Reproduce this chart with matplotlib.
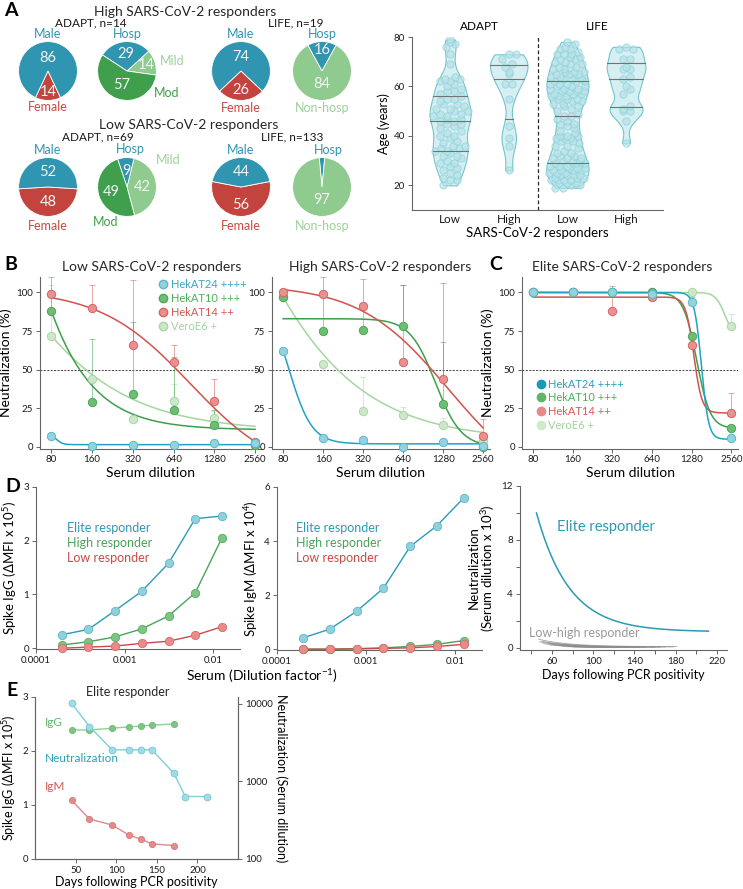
import numpy as np
import matplotlib
matplotlib.use("Agg")
import matplotlib.pyplot as plt
from matplotlib.lines import Line2D
from matplotlib.ticker import NullLocator, FixedLocator

plt.rcParams['font.family'] = ['Lato', 'DejaVu Sans']
plt.rcParams['mathtext.fontset'] = 'custom'
plt.rcParams['mathtext.rm'] = 'Lato'
plt.rcParams['mathtext.it'] = 'Lato:italic'
plt.rcParams['axes.linewidth'] = 0.8
plt.rcParams['axes.edgecolor'] = '0.4'
plt.rcParams['xtick.color'] = '0.4'
plt.rcParams['ytick.color'] = '0.4'
plt.rcParams['xtick.labelcolor'] = '0.1'
plt.rcParams['ytick.labelcolor'] = '0.1'

# ---------------- data ----------------
# A: pies (percent)
sex_high_adapt = [86, 14]     # male, female
sev_high_adapt = [14, 29, 57]  # mild, hosp, mod
sex_high_life = [74, 26]
hosp_high_life = [16, 84]     # hosp, non-hosp
sex_low_adapt = [52, 48]
sev_low_adapt = [42, 9, 49]
sex_low_life = [44, 56]
hosp_low_life = [3, 97]

# A: ages
age_adapt_low = [20, 22, 22, 23, 24, 25, 26, 27, 28, 29, 29, 30, 31, 32, 32, 33, 34, 34, 35, 35,
                 36, 36, 37, 38, 39, 40, 40, 41, 42, 43, 44, 45, 45, 46, 46, 47, 47, 48, 48, 49,
                 49, 50, 50, 51, 51, 52, 53, 53, 54, 55, 55, 56, 57, 58, 58, 59, 60, 61, 62, 62,
                 63, 63, 64, 69, 73, 76, 77, 78, 79]
age_adapt_high = [26, 36, 39, 44, 55, 61, 61, 65, 66, 68, 69, 71, 73, 73]
age_life_low = [19, 19, 20, 20, 21, 21, 21, 22, 22, 22, 22, 23, 23, 23, 24, 24, 24, 24, 25, 25,
                25, 26, 26, 26, 26, 27, 27, 27, 28, 28, 28, 29, 29, 29, 30, 30, 30, 31, 31, 31,
                32, 32, 33, 33, 34, 35, 36, 36, 37, 38, 38, 39, 39, 39, 40, 40, 40, 41, 42, 43,
                44, 45, 45, 46, 47, 48, 48, 49, 50, 51, 52, 52, 53, 53, 54, 54, 55, 55, 55, 56,
                56, 56, 57, 57, 57, 58, 58, 58, 58, 59, 59, 59, 60, 60, 60, 61, 61, 61, 62, 62,
                62, 63, 63, 63, 64, 64, 65, 65, 65, 66, 66, 66, 67, 67, 68, 68, 69, 69, 70, 70,
                71, 71, 72, 72, 73, 73, 73, 74, 75, 75, 76, 77, 78]
age_life_high = [37, 46, 50, 50, 51, 52, 57, 59, 60, 63, 64, 67, 67, 68, 71, 71, 75, 75, 76]
resp_ticklabels = ['Low', 'High', 'Low', 'High']

# B/C: neutralization (%)
dil = [80, 160, 320, 640, 1280, 2560]
strains = ['HekAT24 ++++', 'HekAT10 +++', 'HekAT14 ++', 'VeroE6 +']
low_hekat24 = [7, 0.5, 1, 1.5, 2.5, 2.5]
low_hekat10 = [88, 29, 34, 24, 14, 1]
low_hekat14 = [99, 90, 66, 55, 30, 3]
low_veroe6 = [72, 44, 18, 30, 19, 1]
low_err24 = [0, 0, 0, 0, 0, 0]
low_err10 = [22, 41, 47, 34, 10, 0]
low_err14 = [0, 15, 42, 11, 14, 0]
low_errve = [33, 0, 0, 11, 4, 0]
high_hekat24 = [62, 6, 4.5, 0, 3, 0.5]
high_hekat10 = [97, 75, 76, 78, 28, 0]
high_hekat14 = [100, 99, 91, 55, 44, 7]
high_veroe6 = [97, 54, 23, 21, 14, 4]
high_err24 = [0, 0, 0, 0, 0, 0]
high_err10 = [0, 35, 33, 27, 40, 0]
high_err14 = [0, 0, 0, 50, 62, 11]
high_errve = [0, 0, 22, 5, 5, 0]
elite_hekat24 = [100, 100, 100, 99, 94, 6]
elite_hekat10 = [100, 100, 100, 100, 72, 12]
elite_hekat14 = [100, 100, 88, 97, 66, 22]
elite_veroe6 = [100, 100, 100, 100, 100, 78]
elite_err24 = [0, 0, 0, 0, 3, 0]
elite_err10 = [0, 0, 0, 0, 0, 0]
elite_err14 = [0, 0, 16, 0, 0, 13]
elite_errve = [0, 0, 0, 0, 0, 8]
# fitted 4PL parameters (top, bottom, ec50, hill)
fit_low = [(7.9, 1.5, 88, 20), (731, 11, 20, 1.53), (102, -20, 850, 1.3), (291, 10, 20, 0.91)]
fit_high = [(100, 2, 88, 5), (83, 0, 1120, 4.5), (105, -30, 1400, 1.3), (416, 4, 20, 0.89)]
fit_elite = [(100, 5, 1520, 16), (100, 12, 1400, 8.5), (97, 22, 1330, 14), (100, 70, 2300, 12)]

# D: binding
serum_frac = [1/5120, 1/2560, 1/1280, 1/640, 1/320, 1/160, 1/80]
igg_elite = [0.25, 0.35, 0.70, 1.06, 1.58, 2.41, 2.46]
igg_high = [0.06, 0.12, 0.21, 0.36, 0.60, 1.03, 2.05]
igg_low = [0.0, 0.02, 0.04, 0.09, 0.13, 0.24, 0.40]
igm_elite = [0.42, 0.74, 1.40, 2.25, 3.80, 4.57, 5.60]
igm_high = [0.0, 0.0, 0.02, 0.05, 0.10, 0.18, 0.32]
igm_low = [0.0, 0.0, 0.01, 0.03, 0.05, 0.10, 0.18]
resp_names = ['Elite responder', 'High responder', 'Low responder']
# D right: decay fits (x10^3)
elite_decay = (45, 212, 10.0, 1.2, 32)   # t0, t1, start, plateau, tau
gray_start = [0.65, 0.5, 0.45, 0.38, 0.32, 0.28, 0.22, 0.18, 0.14, 0.1, 0.08]
gray_t0 = [47, 50, 48, 55, 52, 60, 58, 65, 70, 75, 80]
gray_t1 = [181, 178, 170, 165, 160, 150, 145, 140, 130, 120, 110]

# E: elite responder over time
e_days = [45, 67, 95, 116, 130, 144, 171]
e_igg = [2.39, 2.39, 2.42, 2.45, 2.46, 2.48, 2.50]
e_igm = [1.09, 0.74, 0.63, 0.44, 0.37, 0.28, 0.25]
e_neut_days = [45, 67, 95, 116, 130, 144, 171, 185, 212]
e_neut = [10240, 5120, 2560, 2560, 2560, 2560, 1280, 640, 640]

# ---------------- colours ----------------
teal, green, red, lgreen = '#2f95b0', '#3f9f4d', '#c3443e', '#8fca8f'
line_c = ['#1fa3c3', '#3d9f4c', '#d4524c', '#a5d6a0']
face_c = ['#93d3df', '#6dbd73', '#eb8f8f', '#cde8c9']
edge_c = ['#5cb7c9', '#4fa559', '#d36565', '#a9d6a3']
leg_txt = ['#38a6c0', '#4daf5a', '#d65a55', '#9fd29b']

W, H = 743, 889
fig = plt.figure(figsize=(W / 100, H / 100), dpi=100)


def ax_px(x0, y0, x1, y1):
    return fig.add_axes([x0 / W, 1 - y1 / H, (x1 - x0) / W, (y1 - y0) / H])


def txt(x, y, s, **kw):
    ha = kw.pop('ha', 'center')
    va = kw.pop('va', 'center')
    fig.text(x / W, 1 - y / H, s, ha=ha, va=va, **kw)


def style(ax):
    for s in ['top', 'right']:
        ax.spines[s].set_visible(False)
    ax.tick_params(length=3, width=0.7, labelsize=7, pad=2)


# ---------------- A: pies ----------------
def pie(cx, cy, vals, cols, start, dists, r=30):
    ax = ax_px(cx - r, cy - r, cx + r, cy + r)
    wedges, _ = ax.pie(vals, colors=cols, startangle=start, counterclock=True,
                       wedgeprops=dict(edgecolor='white', linewidth=0.6))
    ax.set_xlim(-1.02, 1.02)
    ax.set_ylim(-1.02, 1.02)
    for w, v, d in zip(wedges, vals, dists):
        w.set_clip_on(False)
        if d is None:
            continue
        a = np.deg2rad((w.theta1 + w.theta2) / 2)
        ax.text(d * np.cos(a), d * np.sin(a), str(v), ha='center', va='center',
                color='#f4f4f4', fontsize=10.5)


def sex_pie(cx, cy, vals, dm, df):
    m, f = vals
    pie(cx, cy, [f, m], [red, teal], 270 - f * 1.8, [df, dm])


def hosp_pie(cx, cy, vals, dh, dn):
    h, n = vals
    pie(cx, cy, [h, n], [teal, lgreen], 90 - h * 1.8, [dh, dn])


txt(11, 11, 'A', fontsize=14, fontweight='bold')
txt(185, 12, 'High SARS-CoV-2 responders', fontsize=10, color='0.15')
txt(91, 23, 'ADAPT, n=14', fontsize=8.5, color='0.1')
txt(296, 23, 'LIFE, n=19', fontsize=8.5, color='0.1')
txt(189, 125, 'Low SARS-CoV-2 responders', fontsize=10, color='0.15')
txt(98, 137, 'ADAPT, n=69', fontsize=8.5, color='0.1')
txt(292, 137, 'LIFE, n=133', fontsize=8.5, color='0.1')

sex_pie(48, 71, sex_high_adapt, 0.45, 0.72)
pie(127, 71, sev_high_adapt, [lgreen, teal, green], -8, [0.68, 0.57, 0.52])
sex_pie(241, 71, sex_high_life, 0.47, 0.63)
hosp_pie(322, 71, hosp_high_life, 0.7, 0.45)
sex_pie(48, 187, sex_low_adapt, 0.5, 0.5)
pie(127, 187, sev_low_adapt, [lgreen, teal, green], -75, [0.53, 0.55, 0.57])
sex_pie(241, 187, sex_low_life, 0.5, 0.6)
hosp_pie(322, 187, hosp_low_life, None, 0.45)

for yy in (0, 116):
    txt(48, 34 + yy, 'Male', color=teal, fontsize=9)
    txt(48, 107 + yy + 3 * (yy > 0), 'Female', color='#c84a43', fontsize=9)
    txt(241, 34 + yy, 'Male', color=teal, fontsize=9)
    txt(241, 108 + yy + 2 * (yy > 0), 'Female', color='#c84a43', fontsize=9)
    txt(322 + 6 * (yy > 0), 34 + yy, 'Hosp', color=teal, fontsize=9)
txt(127, 34, 'Hosp', color=teal, fontsize=9)
txt(172, 61, 'Mild', color='#9fd09b', fontsize=9)
txt(167, 93, 'Mod', color=green, fontsize=9)
txt(322, 108, 'Non-hosp', color='#9fd09b', fontsize=9)
txt(130, 149, 'Hosp', color=teal, fontsize=9)
txt(168, 160, 'Mild', color='#9fd09b', fontsize=9)
txt(106, 222, 'Mod', color=green, fontsize=9)
txt(322, 226, 'Non-hosp', color='#9fd09b', fontsize=9)

# ---------------- A: violins ----------------
vax = ax_px(412, 37, 663, 210)
style(vax)
groups = [age_adapt_low, age_adapt_high, age_life_low, age_life_high]
vpos = [0, 1, 2, 3]
parts = vax.violinplot(groups, positions=vpos, widths=[0.7, 0.64, 0.72, 0.66],
                       showextrema=False, bw_method=0.28)
for b in parts['bodies']:
    b.set_facecolor('#d6eff2')
    b.set_edgecolor('#74c4ce')
    b.set_linewidth(0.8)
    b.set_alpha(1)


def halfwidth_fn(body, p):
    v = body.get_paths()[0].vertices
    r = v[v[:, 0] >= p - 1e-9]
    o = np.argsort(r[:, 1])
    ys, xs = r[o, 1], r[o, 0]
    return lambda y: max(np.interp(y, ys, xs) - p, 0.0)


for g, p, b in zip(groups, vpos, parts['bodies']):
    hw = halfwidth_fn(b, p)
    vals = np.asarray(g, float)
    xs = np.full(len(vals), float(p))
    bins = np.floor((vals - vals.min()) / 2.8).astype(int)
    for k in np.unique(bins):
        idx = np.where(bins == k)[0]
        n = len(idx)
        if n == 1:
            continue
        w = min(hw(vals[idx].mean()) * 0.85, (n - 1) * 0.06)
        off = np.linspace(-w, w, n)
        off = np.concatenate([off[::2], off[1::2]])
        xs[idx] = p + off
    vax.scatter(xs, vals, s=28, facecolor='#b6e2e8', edgecolor='#86cfd8', linewidth=0.6,
                alpha=0.7, zorder=3)
    for q in np.percentile(vals, [25, 50, 75]):
        h = hw(q)
        vax.plot([p - h, p + h], [q, q], color='0.45', lw=0.8, zorder=4)

vax.axvline(1.5, color='0.15', ls=(0, (3, 2)), lw=0.9)
vax.set_xlim(-0.65, 3.63)
vax.set_ylim(10, 80)
vax.set_yticks([20, 40, 60, 80])
vax.set_xticks(vpos, resp_ticklabels, fontsize=8.5)
vax.tick_params(axis='x', length=0, pad=3)
vax.set_ylabel('Age (years)', fontsize=9, labelpad=3)
vax.set_xlabel('SARS-CoV-2 responders', fontsize=9.5, labelpad=1)
vax.text(0.5, 82, 'ADAPT', ha='center', va='bottom', fontsize=8.5)
vax.text(2.5, 82, 'LIFE', ha='center', va='bottom', fontsize=8.5)


# ---------------- B / C: neutralization ----------------
def hill(x, top, bottom, ec50, h):
    return bottom + (top - bottom) / (1 + (x / ec50) ** h)


def neut_panel(rect, vals, errs, fits, ylabel):
    ax = ax_px(*rect)
    style(ax)
    ax.set_xscale('log', base=2)
    ax.set_xlim(66, 2880)
    ax.set_ylim(-1, 110)
    ax.axhline(50, color='0.25', lw=0.7, ls=(0, (2, 1.5)), zorder=1)
    xx = np.geomspace(80, 2560, 400)
    for i in [3, 1, 2, 0]:
        ax.errorbar(dil, vals[i], yerr=[np.zeros(6), errs[i]], fmt='none', ecolor=line_c[i],
                    alpha=0.5, elinewidth=0.7, capsize=2, capthick=0.7, zorder=2)
        ax.plot(xx, hill(xx, *fits[i]), color=line_c[i], lw=1.1, zorder=3)
    for i in [3, 1, 2, 0]:
        ax.plot(dil, vals[i], 'o', ms=6, mfc=face_c[i], mec=edge_c[i], mew=0.7,
                zorder=4, clip_on=False)
    ax.set_xticks(dil, [str(d) for d in dil])
    ax.xaxis.set_minor_locator(NullLocator())
    ax.set_yticks([0, 25, 50, 75, 100])
    ax.set_xlabel('Serum dilution', fontsize=10, labelpad=2)
    if ylabel:
        ax.set_ylabel('Neutralization (%)', fontsize=10, labelpad=3)
    return ax


bl = neut_panel((40, 277, 262, 448.5), [low_hekat24, low_hekat10, low_hekat14, low_veroe6],
                [low_err24, low_err10, low_err14, low_errve], fit_low, True)
br = neut_panel((272, 277, 490, 448.5), [high_hekat24, high_hekat10, high_hekat14, high_veroe6],
                [high_err24, high_err10, high_err14, high_errve], fit_high, False)
cc = neut_panel((522, 277, 738, 448.5), [elite_hekat24, elite_hekat10, elite_hekat14, elite_veroe6],
                [elite_err24, elite_err10, elite_err14, elite_errve], fit_elite, True)

handles_b = [Line2D([], [], ls='none', marker='o', ms=6, mfc=face_c[i], mec=edge_c[i]) for i in range(4)]
bl.legend(handles_b, strains, loc='upper left', bbox_to_anchor=(0.52, 1.0), frameon=False,
          fontsize=8, labelcolor=leg_txt, handletextpad=0.2, labelspacing=0.25,
          borderpad=0, handlelength=1.0, borderaxespad=0.2)
handles_c = [Line2D([], [], ls='none', marker='o', ms=6, mfc=c, mec=c)
             for c in ['#1b9ab5', '#5cb866', '#e98888', '#cfe9cb']]
cc.legend(handles_c, strains, loc='lower left', bbox_to_anchor=(0.05, 0.09), frameon=False,
          fontsize=8, labelcolor=['#2a9fb8', '#4daf5a', '#d65a55', '#9fd29b'], handletextpad=0.2,
          labelspacing=0.25, borderpad=0, handlelength=1.0, borderaxespad=0.2)

txt(11, 265, 'B', fontsize=14, fontweight='bold')
txt(496, 265, 'C', fontsize=14, fontweight='bold')
txt(152, 267, 'Low SARS-CoV-2 responders', fontsize=10, color='0.15')
txt(380, 267, 'High SARS-CoV-2 responders', fontsize=10, color='0.15')
txt(622, 267, 'Elite SARS-CoV-2 responders', fontsize=10, color='0.15')

# ---------------- D ----------------
d_line = ['#2a9bb3', '#4aa35a', '#c94a48']
d_face = ['#8fd0dc', '#7cc582', '#e88b8b']
d_edge = ['#5fb8c9', '#5aae63', '#d86c6c']


def bind_panel(rect, series, ymax, ylabel, tx):
    ax = ax_px(*rect)
    style(ax)
    ax.set_xscale('log')
    ax.set_xlim(1e-4, 0.02)
    ax.set_ylim(-0.005 * ymax, ymax)
    for i in [2, 1, 0]:
        ax.plot(serum_frac, series[i], '-o', color=d_line[i], lw=1, ms=6, mfc=d_face[i],
                mec=d_edge[i], mew=0.6, clip_on=False, zorder=3 + i)
    ax.set_xticks([1e-4, 1e-3, 1e-2], ['0.0001', '0.001', '0.01'])
    ax.xaxis.set_minor_locator(NullLocator())
    ax.set_ylabel(ylabel, fontsize=9.5, labelpad=3)
    for name, c, y in zip(resp_names, d_line, [528, 543, 558]):
        txt(tx, y, name, ha='left', color=c, fontsize=9)
    return ax


dl = bind_panel((36, 487, 240, 649), [igg_elite, igg_high, igg_low], 3, 'Spike IgG (ΔMFI x 10$^5$)', 67)
dl.set_yticks([0, 1, 2, 3])
dm = bind_panel((277, 487, 482, 650), [igm_elite, igm_high, igm_low], 6, 'Spike IgM (ΔMFI x 10$^4$)', 296)
dm.set_yticks([0, 2, 4, 6])
txt(262, 676, 'Serum (Dilution factor$^{-1}$)', fontsize=10)
txt(13, 487, 'D', fontsize=14, fontweight='bold')

dr = ax_px(520, 486, 727, 650)
style(dr)
dr.set_xlim(29, 230)
dr.set_ylim(-0.15, 12)
for s0, t0, t1 in zip(gray_start, gray_t0, gray_t1):
    tt = np.linspace(t0, t1, 100)
    dr.plot(tt, s0 * 0.15 + s0 * 0.85 * np.exp(-(tt - t0) / 30), color='0.55', lw=0.6, alpha=0.8)
t0, t1, s0, pl, tau = elite_decay
tt = np.linspace(t0, t1, 300)
dr.plot(tt, pl + (s0 - pl) * np.exp(-(tt - t0) / tau), color='#2a9bb0', lw=1.1)
dr.set_xticks([60, 100, 140, 180, 220])
dr.xaxis.set_minor_locator(FixedLocator([40, 80, 120, 160, 200]))
dr.set_yticks([0, 4, 8, 12])
dr.yaxis.set_minor_locator(FixedLocator([2, 6, 10]))
dr.tick_params(which='minor', length=3, width=0.7)
dr.set_ylabel('Neutralization\n(Serum dilution x 10$^3$)', fontsize=9.5, labelpad=3, linespacing=1.0)
dr.set_xlabel('Days following PCR positivity', fontsize=9, labelpad=2)
txt(557, 527, 'Elite responder', ha='left', color='#2a9bb0', fontsize=10.5)
txt(529, 633, 'Low-high responder', ha='left', color='0.6', fontsize=9)

# ---------------- E ----------------
ea = ax_px(35, 697, 238, 859)
ea.spines['top'].set_visible(False)
ea.tick_params(length=3, width=0.7, labelsize=7, pad=2)
ea.set_xlim(0, 250)
ea.set_ylim(0, 3)
ea.set_yticks([0, 1, 2, 3])
ea.set_xticks([50, 100, 150, 200])
ea.plot(e_days, e_igg, '-o', color='#8fd095', lw=1, ms=4.5, mfc='#7cc583', mec='#62b46a', mew=0.5, zorder=3)
ea.plot(e_days, e_igm, '-o', color='#e38989', lw=1, ms=4.5, mfc='#e58b8b', mec='#d46d6d', mew=0.5, zorder=3)
ea.set_ylabel('Spike IgG (ΔMFI x 10$^5$)', fontsize=9, labelpad=3)
ea.set_xlabel('Days following PCR positivity', fontsize=9, labelpad=1)
eb = ea.twinx()
eb.spines['top'].set_visible(False)
eb.set_yscale('log')
eb.set_ylim(100, 12300)
eb.plot(e_neut_days, e_neut, '-o', color='#7fcfdb', lw=1, ms=5, mfc='#a1dbe4', mec='#6cc3d1', mew=0.5, zorder=3)
eb.set_yticks([100, 1000, 10000], ['100', '1000', '10000'])
eb.yaxis.set_minor_locator(NullLocator())
eb.tick_params(length=3, width=0.7, labelsize=7, pad=2)
eb.set_ylabel('Neutralization (Serum dilution)', fontsize=9, rotation=270, labelpad=11)
txt(128, 692, 'Elite responder', fontsize=9, color='0.15')
txt(45, 722, 'IgG', ha='left', color='#5fb46a', fontsize=8.5)
txt(45, 759, 'Neutralization', ha='left', color='#2e9fb5', fontsize=8.5)
txt(45, 787, 'IgM', ha='left', color='#d05a55', fontsize=8.5)
txt(12, 690, 'E', fontsize=14, fontweight='bold')

fig.savefig('out.png', dpi=100)
